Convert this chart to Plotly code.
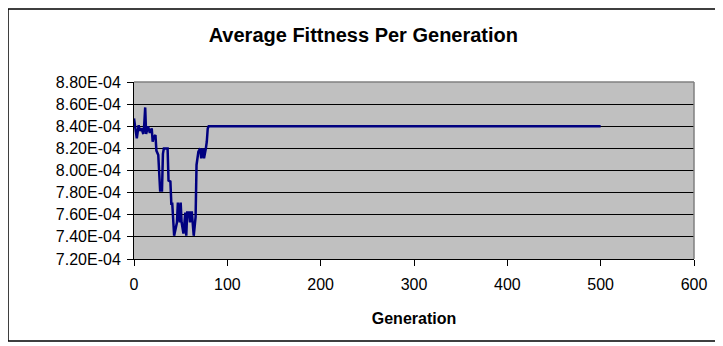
import plotly.graph_objects as go

# Data (fitness values in units of 1e-6)
generation = [0, 2, 3, 5, 6, 8, 10, 11, 12, 13, 15, 17, 19, 20, 21, 23, 24, 26,
              28, 30, 31, 32, 36, 37, 39, 40, 41, 43, 46, 47, 49, 50, 51, 53,
              55, 56, 57, 59, 60, 61, 62, 64, 66, 67, 69, 71, 72, 74, 75, 77,
              78, 79, 80, 500]
fitness_e6 = [847, 836, 829, 841, 836, 838, 833, 842, 857, 833, 840, 834, 838, 826,
              830, 832, 818, 814, 782, 782, 815, 820, 820, 791, 790, 770, 770,
              741, 753, 771, 753, 771, 753, 743, 762, 741, 762, 762, 753, 762,
              762, 741, 758, 805, 817, 820, 811, 820, 811, 820, 826, 838, 840, 840]
fitness = [v * 1e-6 for v in fitness_e6]

y_ticks = [7.2e-4, 7.4e-4, 7.6e-4, 7.8e-4, 8.0e-4, 8.2e-4, 8.4e-4, 8.6e-4, 8.8e-4]
y_ticktext = ["7.20E-04", "7.40E-04", "7.60E-04", "7.80E-04", "8.00E-04",
              "8.20E-04", "8.40E-04", "8.60E-04", "8.80E-04"]
x_ticks = [0, 100, 200, 300, 400, 500, 600]

FONT = "Arial, Liberation Sans, sans-serif"

# page has an 8px body margin, so the figure is sized to sit inside it
W, H = 715, 338
L, T, R, B = 126, 74, 29, 87
PW, PH = W - L - R, H - T - B

fig = go.Figure(go.Scatter(
    x=generation,
    y=fitness,
    mode="lines",
    line=dict(color="#000080", width=2.5),
    showlegend=False,
))

fig.update_layout(
    width=W,
    height=H,
    margin=dict(l=L, r=R, t=T, b=B),
    paper_bgcolor="white",
    plot_bgcolor="#C0C0C0",
    font=dict(family=FONT, color="black", size=16),
    title=dict(text="<b>Average Fittness Per Generation</b>", x=0.497, xanchor="center",
               y=1 - 27 / H, yref="container", yanchor="middle",
               font=dict(size=20, family=FONT, color="black")),
    xaxis=dict(
        range=[0, 600], tickvals=x_ticks, showgrid=False, zeroline=False,
        showline=True, linecolor="black", linewidth=1,
        ticks="outside", ticklen=6, tickcolor="black", ticklabelstandoff=5,
        tickfont=dict(size=16),
        title=dict(text="<b>Generation</b>", font=dict(size=16), standoff=20),
    ),
    yaxis=dict(
        range=[7.2e-4, 8.8e-4], tickvals=y_ticks, ticktext=y_ticktext,
        showgrid=True, gridcolor="black", gridwidth=1, zeroline=False,
        showline=True, linecolor="black", linewidth=1,
        ticks="outside", ticklen=6, tickcolor="black", ticklabelstandoff=3,
        tickfont=dict(size=16),
    ),
    shapes=[
        # gray top/right border of the plot area
        dict(type="line", xref="paper", yref="paper", x0=0, x1=1, y0=1, y1=1,
             line=dict(color="#808080", width=1.5)),
        dict(type="line", xref="paper", yref="paper", x0=1, x1=1, y0=0, y1=1,
             line=dict(color="#808080", width=1.5)),
        # outer chart frame
        dict(type="rect", xref="paper", yref="paper",
             x0=(0 - L) / PW, x1=(711 - L) / PW,
             y0=(T + PH - 333) / PH, y1=(T + PH - 1) / PH,
             line=dict(color="black", width=1.5), layer="below"),
    ],
)

fig.write_html("out.html")
